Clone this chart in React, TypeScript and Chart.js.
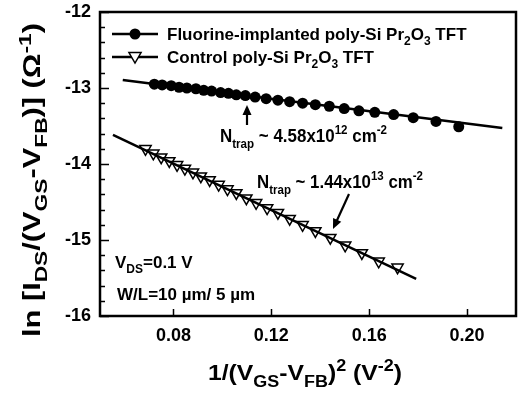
import React, { useEffect, useRef } from 'react';
import { Chart, registerables } from 'chart.js';
Chart.register(...registerables);

const fluorineX = [0.0722, 0.0754, 0.0791, 0.0823, 0.0855, 0.0892, 0.0924, 0.0956, 0.0993, 0.1025, 0.1057, 0.1094, 0.1134, 0.1179, 0.1227, 0.1275, 0.1328, 0.1380, 0.1437, 0.1498, 0.1558, 0.1623, 0.1700, 0.1780, 0.1873, 0.1966];
const fluorineY = [-12.95, -12.96, -12.97, -12.99, -13.00, -13.01, -13.03, -13.04, -13.06, -13.07, -13.09, -13.10, -13.12, -13.14, -13.16, -13.18, -13.20, -13.22, -13.24, -13.27, -13.30, -13.32, -13.35, -13.39, -13.44, -13.51];
const controlX = [0.0686, 0.0718, 0.0750, 0.0783, 0.0815, 0.0847, 0.0880, 0.0912, 0.0948, 0.0985, 0.1021, 0.1057, 0.1098, 0.1138, 0.1183, 0.1227, 0.1275, 0.1328, 0.1380, 0.1441, 0.1502, 0.1570, 0.1639, 0.1716];
const controlY = [-13.80, -13.86, -13.91, -13.96, -14.01, -14.06, -14.11, -14.16, -14.21, -14.27, -14.33, -14.38, -14.45, -14.51, -14.58, -14.64, -14.72, -14.80, -14.88, -14.97, -15.07, -15.17, -15.28, -15.36];
const fluorineFitX = [0.0593, 0.2144];
const fluorineFitY = [-12.895, -13.526];
const controlFitX = [0.0553, 0.1792];
const controlFitY = [-13.618, -15.513];
const xTicks = [0.08, 0.12, 0.16, 0.2];
const yTicks = [-16, -15, -14, -13, -12];
const yMinorStep = 0.2;

const FAMILY = '"Liberation Sans", Arial, sans-serif';

type Seg = { t: string; s?: 'sub' | 'sup' };

function drawRich(
  ctx: CanvasRenderingContext2D,
  segs: Seg[],
  x: number,
  y: number,
  size: number,
  small: number,
  align: 'left' | 'center',
  width?: number
) {
  const fontFor = (seg: Seg) => `bold ${seg.s ? small : size}px ${FAMILY}`;
  let total = 0;
  for (const seg of segs) {
    ctx.font = fontFor(seg);
    total += ctx.measureText(seg.t).width;
  }
  const sx = width ? width / total : 1;
  ctx.save();
  ctx.translate(x, y);
  ctx.scale(sx, 1);
  let cx = align === 'center' ? -total / 2 : 0;
  ctx.textBaseline = 'alphabetic';
  ctx.textAlign = 'left';
  ctx.fillStyle = '#000';
  for (const seg of segs) {
    ctx.font = fontFor(seg);
    const dy = seg.s === 'sub' ? size * 0.3 : seg.s === 'sup' ? -size * 0.4 : 0;
    ctx.fillText(seg.t, cx, dy);
    cx += ctx.measureText(seg.t).width;
  }
  ctx.restore();
}

function arrow(ctx: CanvasRenderingContext2D, x0: number, y0: number, x1: number, y1: number) {
  const ang = Math.atan2(y1 - y0, x1 - x0);
  const hl = 10, hw = 4.5;
  ctx.save();
  ctx.strokeStyle = '#000';
  ctx.fillStyle = '#000';
  ctx.lineWidth = 2.2;
  ctx.beginPath();
  ctx.moveTo(x0, y0);
  ctx.lineTo(x1 - Math.cos(ang) * hl * 0.8, y1 - Math.sin(ang) * hl * 0.8);
  ctx.stroke();
  ctx.beginPath();
  ctx.moveTo(x1, y1);
  ctx.lineTo(x1 - Math.cos(ang) * hl - Math.sin(ang) * hw, y1 - Math.sin(ang) * hl + Math.cos(ang) * hw);
  ctx.lineTo(x1 - Math.cos(ang) * hl + Math.sin(ang) * hw, y1 - Math.sin(ang) * hl - Math.cos(ang) * hw);
  ctx.closePath();
  ctx.fill();
  ctx.restore();
}

function triangleDown(ctx: CanvasRenderingContext2D, x: number, y: number, r: number) {
  ctx.beginPath();
  ctx.moveTo(x - r * 0.866, y - r * 0.5);
  ctx.lineTo(x + r * 0.866, y - r * 0.5);
  ctx.lineTo(x, y + r);
  ctx.closePath();
  ctx.fillStyle = '#fff';
  ctx.fill();
  ctx.lineWidth = 1.5;
  ctx.strokeStyle = '#000';
  ctx.stroke();
}

const decorPlugin = {
  id: 'decor',
  afterDraw(chart: any) {
    const { ctx, chartArea: a, scales } = chart;
    const xs = scales.x, ys = scales.y;
    ctx.save();
    // frame
    ctx.strokeStyle = '#000';
    ctx.lineWidth = 2.5;
    ctx.strokeRect(a.left, a.top, a.right - a.left, a.bottom - a.top);
    // inward ticks
    ctx.lineWidth = 1.5;
    ctx.beginPath();
    for (let v = ys.min; v <= ys.max + 1e-9; v += yMinorStep) {
      const py = Math.round(ys.getPixelForValue(v)) + 0.5;
      const major = Math.abs(v - Math.round(v)) < 1e-6;
      ctx.moveTo(a.left, py);
      ctx.lineTo(a.left + (major ? 9 : 5), py);
    }
    for (const v of xTicks) {
      const px = Math.round(xs.getPixelForValue(v)) + 0.5;
      ctx.moveTo(px, a.bottom);
      ctx.lineTo(px, a.bottom - 7);
    }
    ctx.stroke();

    // legend
    ctx.lineWidth = 2.5;
    ctx.beginPath();
    ctx.moveTo(112, 34); ctx.lineTo(158, 34);
    ctx.moveTo(112, 57); ctx.lineTo(158, 57);
    ctx.stroke();
    ctx.beginPath();
    ctx.arc(135, 34, 5.5, 0, Math.PI * 2);
    ctx.fillStyle = '#000';
    ctx.fill();
    triangleDown(ctx, 135, 56, 7);
    drawRich(ctx, [{ t: 'Fluorine-implanted poly-Si Pr' }, { t: '2', s: 'sub' }, { t: 'O' }, { t: '3', s: 'sub' }, { t: ' TFT' }], 167, 40, 17, 12, 'left');
    drawRich(ctx, [{ t: 'Control poly-Si Pr' }, { t: '2', s: 'sub' }, { t: 'O' }, { t: '3', s: 'sub' }, { t: ' TFT' }], 167, 63, 17, 12, 'left');

    // annotations
    drawRich(ctx, [{ t: 'N' }, { t: 'trap', s: 'sub' }, { t: ' ~ 4.58x10' }, { t: '12', s: 'sup' }, { t: ' cm' }, { t: '-2', s: 'sup' }], 220, 142, 19, 13, 'left', 167);
    arrow(ctx, 247, 125, 247, 105);
    drawRich(ctx, [{ t: 'N' }, { t: 'trap', s: 'sub' }, { t: ' ~ 1.44x10' }, { t: '13', s: 'sup' }, { t: ' cm' }, { t: '-2', s: 'sup' }], 257, 188, 19, 13, 'left', 166);
    arrow(ctx, 349, 194, 333, 229);

    drawRich(ctx, [{ t: 'V' }, { t: 'DS', s: 'sub' }, { t: '=0.1 V' }], 115, 268, 17, 12, 'left');
    drawRich(ctx, [{ t: 'W/L=10 \u00b5m/ 5 \u00b5m' }], 117, 300, 17, 12, 'left');

    // axis titles
    drawRich(ctx, [{ t: '1/(V' }, { t: 'GS', s: 'sub' }, { t: '-V' }, { t: 'FB', s: 'sub' }, { t: ')' }, { t: '2', s: 'sup' }, { t: ' (V' }, { t: '-2', s: 'sup' }, { t: ')' }], 305, 380, 22, 16, 'center', 194);
    ctx.save();
    ctx.translate(40, 180);
    ctx.rotate(-Math.PI / 2);
    drawRich(ctx, [{ t: 'ln [I' }, { t: 'DS', s: 'sub' }, { t: '/(V' }, { t: 'GS', s: 'sub' }, { t: '-V' }, { t: 'FB', s: 'sub' }, { t: ')] (\u03a9' }, { t: '-1', s: 'sup' }, { t: ')' }], 0, 0, 23, 17, 'center', 314);
    ctx.restore();
    ctx.restore();
  },
};

export default function App() {
  const ref = useRef<HTMLCanvasElement>(null);
  useEffect(() => {
    document.body.style.margin = '0';
    const tickFont = { family: FAMILY, size: 18, weight: 'bold' as const };
    const chart = new Chart(ref.current!, {
      type: 'scatter',
      data: {
        datasets: [
          {
            label: 'Fluorine fit',
            data: fluorineFitX.map((x, i) => ({ x, y: fluorineFitY[i] })),
            showLine: true,
            borderColor: '#000',
            borderWidth: 2.5,
            pointRadius: 0,
            order: 0,
          },
          {
            label: 'Control fit',
            data: controlFitX.map((x, i) => ({ x, y: controlFitY[i] })),
            showLine: true,
            borderColor: '#000',
            borderWidth: 2.5,
            pointRadius: 0,
            order: 0,
          },
          {
            label: 'Fluorine-implanted poly-Si Pr2O3 TFT',
            data: fluorineX.map((x, i) => ({ x, y: fluorineY[i] })),
            pointStyle: 'circle',
            pointRadius: 5.5,
            backgroundColor: '#000',
            borderColor: '#000',
            borderWidth: 0,
            order: 1,
          },
          {
            label: 'Control poly-Si Pr2O3 TFT',
            data: controlX.map((x, i) => ({ x, y: controlY[i] })),
            pointStyle: 'triangle',
            pointRotation: 180,
            pointRadius: 6.5,
            backgroundColor: '#fff',
            borderColor: '#000',
            borderWidth: 1.5,
            order: 1,
          },
        ],
      },
      options: {
        responsive: false,
        animation: false,
        layout: { padding: { top: 12, right: 3, left: 0, bottom: 0 } },
        plugins: { legend: { display: false }, tooltip: { enabled: false } },
        scales: {
          x: {
            type: 'linear',
            min: 0.05,
            max: 0.22,
            afterBuildTicks: (s: any) => {
              s.ticks = xTicks.map((v) => ({ value: v }));
            },
            afterFit: (s: any) => {
              s.height = 78;
              s.paddingLeft = 0;
              s.paddingRight = 0;
            },
            ticks: {
              font: tickFont,
              color: '#000',
              padding: 9,
              maxRotation: 0,
              autoSkip: false,
              callback: (v: any) => Number(v).toFixed(2),
            },
            grid: { display: false, drawTicks: false },
            border: { display: false },
          },
          y: {
            type: 'linear',
            min: -16,
            max: -12,
            afterBuildTicks: (s: any) => {
              s.ticks = yTicks.map((v) => ({ value: v }));
            },
            afterFit: (s: any) => {
              s.width = 100;
              s.paddingTop = 0;
              s.paddingBottom = 0;
            },
            ticks: {
              font: tickFont,
              color: '#000',
              padding: 9,
              autoSkip: false,
              callback: (v: any) => String(v),
            },
            grid: { display: false, drawTicks: false },
            border: { display: false },
          },
        },
      },
      plugins: [decorPlugin],
    });
    return () => chart.destroy();
  }, []);
  return (
    <div style={{ width: 524, height: 394, background: '#fff' }}>
      <canvas ref={ref} width={524} height={394} style={{ display: 'block' }} />
    </div>
  );
}
